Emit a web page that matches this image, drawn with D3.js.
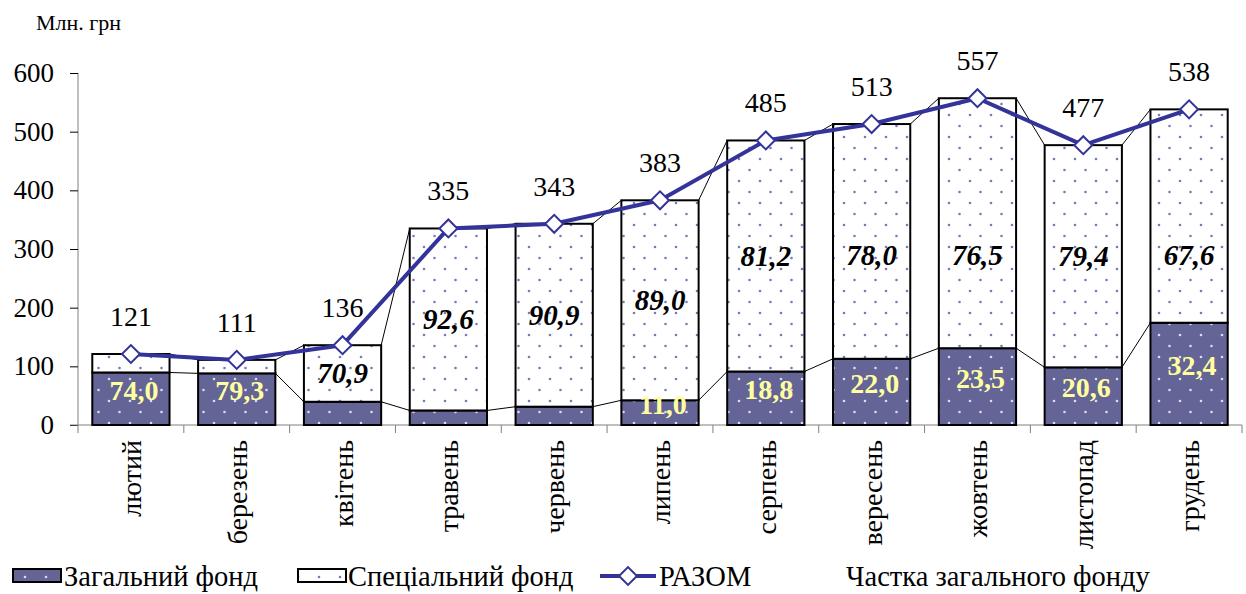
<!DOCTYPE html>
<html>
<head>
<meta charset="utf-8">
<script src="https://cdn.jsdelivr.net/npm/d3@7"></script>
<style>
  html, body { margin: 0; padding: 0; background: #fff; }
  svg { display: block; font-family: "Liberation Serif", "Times New Roman", serif; }
</style>
</head>
<body>
<svg id="chart" width="1246" height="594"></svg>
<script>
// Monthly revenue, mln UAH
const months = ["лютий", "березень", "квітень", "травень", "червень", "липень",
                "серпень", "вересень", "жовтень", "листопад", "грудень"];
const totals = [121, 111, 136, 335, 343, 383, 485, 513, 557, 477, 538];
// share of the general fund in the monthly total, %
const generalShare = [74.0, 79.3, 29.1, 7.4, 9.1, 11.0, 18.8, 22.0, 23.5, 20.6, 32.4];
// which share labels are printed for each month
const showGeneralLabel = [true, true, false, false, false, true, true, true, true, true, true];
const showSpecialLabel = [false, false, true, true, true, true, true, true, true, true, true];
const yTicks = [0, 100, 200, 300, 400, 500, 600];

const rows = months.map((m, i) => {
  const general = totals[i] * generalShare[i] / 100;
  return {
    month: m,
    total: totals[i],
    general: general,
    gShare: generalShare[i],
    sShare: +(100 - generalShare[i]).toFixed(1),
    showG: showGeneralLabel[i],
    showS: showSpecialLabel[i]
  };
});

const svg = d3.select("#chart");
const FONT = "'Liberation Serif', 'Times New Roman', serif";
const DARK = "#646496";
const LINE = "#333399";

// dotted fills
const defs = svg.append("defs");
function dotPattern(id, bg, dot) {
  const p = defs.append("pattern").attr("id", id)
    .attr("patternUnits", "userSpaceOnUse").attr("width", 21).attr("height", 22);
  p.append("rect").attr("width", 21).attr("height", 22).attr("fill", bg);
  p.append("circle").attr("cx", 4).attr("cy", 5).attr("r", 1.3).attr("fill", dot);
  p.append("circle").attr("cx", 14.5).attr("cy", 16).attr("r", 1.3).attr("fill", dot);
}
dotPattern("fillGeneral", DARK, "#dcdcf0");
dotPattern("fillSpecial", "#ffffff", "#7a7ab8");

const x = d3.scaleBand().domain(months).range([78, 1242])
  .paddingInner(0.27).paddingOuter(0.135);
const y = d3.scaleLinear().domain([0, 600]).range([425, 73]);
const bw = x.bandwidth();
const step = x.step();

// unit caption
svg.append("text").attr("x", 36).attr("y", 30)
  .attr("font-family", FONT).attr("font-size", 22).attr("fill", "#000")
  .text("Млн. грн");

// y axis
const yAxis = d3.axisLeft(y).tickValues(yTicks).tickSize(8).tickPadding(16);
const gy = svg.append("g").attr("transform", "translate(78,0)").call(yAxis);
gy.select(".domain").attr("stroke", "#808080").attr("d", "M0,73V425");
gy.selectAll(".tick line").attr("stroke", "#000");
gy.selectAll(".tick text").attr("font-family", FONT).attr("font-size", 27).attr("fill", "#000");

// x axis baseline and category dividers
svg.append("line").attr("x1", 70).attr("x2", 1242).attr("y1", 425).attr("y2", 425)
  .attr("stroke", "#808080");
svg.append("g").selectAll("line")
  .data(d3.range(months.length + 1))
  .join("line")
  .attr("x1", i => 78 + i * step).attr("x2", i => 78 + i * step)
  .attr("y1", 425).attr("y2", 433)
  .attr("stroke", "#808080");

// category labels
svg.append("g").selectAll("text").data(months).join("text")
  .attr("transform", d => `translate(${x(d) + bw / 2 + 10},440) rotate(-90)`)
  .attr("text-anchor", "end")
  .attr("font-family", FONT).attr("font-size", 28).attr("fill", "#000")
  .text(d => d);

// series lines joining segment tops of neighbouring bars
const pairs = d3.pairs(rows);
const series = svg.append("g").attr("stroke", "#000").attr("stroke-width", 1);
series.selectAll(".sg").data(pairs).join("line").attr("class", "sg")
  .attr("x1", ([a]) => x(a.month) + bw).attr("y1", ([a]) => y(a.general))
  .attr("x2", ([, b]) => x(b.month)).attr("y2", ([, b]) => y(b.general));
series.selectAll(".st").data(pairs).join("line").attr("class", "st")
  .attr("x1", ([a]) => x(a.month) + bw).attr("y1", ([a]) => y(a.total))
  .attr("x2", ([, b]) => x(b.month)).attr("y2", ([, b]) => y(b.total));

// stacked bars
const bars = svg.append("g");
bars.selectAll(".gen").data(rows).join("rect").attr("class", "gen")
  .attr("x", d => x(d.month)).attr("width", bw)
  .attr("y", d => y(d.general)).attr("height", d => y(0) - y(d.general))
  .attr("fill", "url(#fillGeneral)").attr("stroke", "#000").attr("stroke-width", 2);
bars.selectAll(".spec").data(rows).join("rect").attr("class", "spec")
  .attr("x", d => x(d.month)).attr("width", bw)
  .attr("y", d => y(d.total)).attr("height", d => y(d.general) - y(d.total))
  .attr("fill", "url(#fillSpecial)").attr("stroke", "#000").attr("stroke-width", 2);

// share labels
const fmt = v => v.toFixed(1).replace(".", ",");
const labelCeil = 290;
svg.append("g").selectAll("text").data(rows.filter(d => d.showG)).join("text")
  .attr("x", d => x(d.month) + bw / 2 + 3)
  .attr("y", d => y(d.general / 2) + 1)
  .attr("text-anchor", "middle")
  .attr("font-family", FONT).attr("font-size", 28).attr("font-weight", "bold")
  .attr("fill", "#FFFFA0")
  .text(d => fmt(d.gShare));
svg.append("g").selectAll("text").data(rows.filter(d => d.showS)).join("text")
  .attr("x", d => x(d.month) + bw / 2)
  .attr("y", d => y(Math.min((d.general + d.total) / 2, labelCeil)) + 10)
  .attr("text-anchor", "middle")
  .attr("font-family", FONT).attr("font-size", 29).attr("font-weight", "bold")
  .attr("font-style", "italic").attr("fill", "#000")
  .text(d => fmt(d.sShare));

// total line
svg.append("path").datum(rows)
  .attr("fill", "none").attr("stroke", LINE).attr("stroke-width", 4)
  .attr("stroke-linejoin", "round")
  .attr("d", d3.line().x(d => x(d.month) + bw / 2).y(d => y(d.total)));
const diamond = d3.symbol(d3.symbolSquare, 160);
svg.append("g").selectAll("path").data(rows).join("path")
  .attr("transform", d => `translate(${x(d.month) + bw / 2},${y(d.total)}) rotate(45)`)
  .attr("d", diamond).attr("fill", "#fff").attr("stroke", LINE).attr("stroke-width", 2);

// total labels
svg.append("g").selectAll("text").data(rows).join("text")
  .attr("x", d => x(d.month) + bw / 2).attr("y", d => y(d.total) - 28)
  .attr("text-anchor", "middle")
  .attr("font-family", FONT).attr("font-size", 28).attr("fill", "#000")
  .text(d => d.total);

// legend
const lg = svg.append("g").attr("font-family", FONT).attr("font-size", 28.5).attr("fill", "#000");
lg.append("rect").attr("x", 13).attr("y", 569).attr("width", 48).attr("height", 13)
  .attr("fill", "url(#fillGeneral)").attr("stroke", "#000").attr("stroke-width", 2);
lg.append("text").attr("x", 64).attr("y", 586).text("Загальний фонд");
lg.append("rect").attr("x", 298).attr("y", 569).attr("width", 48).attr("height", 13)
  .attr("fill", "url(#fillSpecial)").attr("stroke", "#000").attr("stroke-width", 2);
lg.append("text").attr("x", 348).attr("y", 586).text("Спеціальний фонд");
lg.append("line").attr("x1", 600).attr("x2", 656).attr("y1", 576).attr("y2", 576)
  .attr("stroke", LINE).attr("stroke-width", 4);
lg.append("path").attr("transform", "translate(628,576) rotate(45)")
  .attr("d", diamond).attr("fill", "#fff").attr("stroke", LINE).attr("stroke-width", 2);
lg.append("text").attr("x", 659).attr("y", 586).text("РАЗОМ");
lg.append("text").attr("x", 846).attr("y", 586).text("Частка загального фонду");
</script>
</body>
</html>
